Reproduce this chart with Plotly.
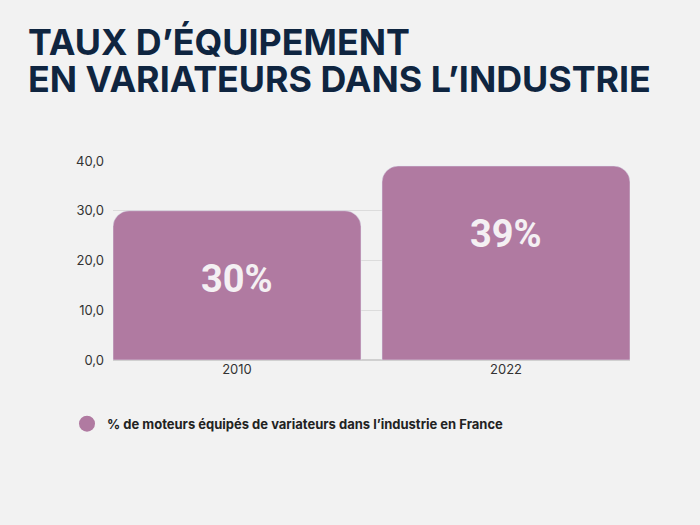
import plotly.graph_objects as go

categories = ["2010", "2022"]
values = [30, 39]
labels = ["30%", "39%"]
series_name = "% de moteurs équipés de variateurs dans l’industrie en France"
title_lines = ["TAUX D’ÉQUIPEMENT", "EN VARIATEURS DANS L’INDUSTRIE"]
y_ticks = [0, 10, 20, 30, 40]

BAR = "#b07aa1"
BG = "#f2f2f2"
NAVY = "#0f2540"

fig = go.Figure()
fig.add_trace(go.Bar(
    x=categories, y=values, marker=dict(color=BAR, cornerradius=16),
    showlegend=False, hoverinfo="skip",
))
fig.add_trace(go.Scatter(
    x=[None], y=[None], mode="markers", name=series_name,
    marker=dict(color=BAR, size=18, symbol="circle"),
))

for i, (v, t) in enumerate(zip(values, labels)):
    fig.add_annotation(xref="x", yref="y", x=i, y=v, text="<b>" + t + "</b>", showarrow=False,
                       yanchor="middle", yshift=-68,
                       font=dict(family="Roboto", size=38, color="#f4f0f3"))

plot_h = 525 - 161 - 165
for i, (line, top, h) in enumerate(zip(title_lines, [42, 79], [None, 30])):
    fig.add_annotation(xref="paper", yref="paper", x=-(113 - 27) / 517, xanchor="left",
                       y=1 + (161 - top) / plot_h, yanchor="middle", showarrow=False,
                       text="<b>" + line + "</b>", height=h, borderpad=0,
                       font=dict(family="Inter", size=35.8, color=NAVY))

fig.update_layout(
    width=700, height=525,
    paper_bgcolor=BG, plot_bgcolor=BG,
    margin=dict(l=113, r=70, t=161, b=165),
    bargap=0.078,
    separators=",.",
    font=dict(family="Inter", size=13, color="#333333"),
    legend=dict(orientation="h", x=-(113 - 67) / 517, xanchor="left", y=-0.32, yanchor="middle",
                font=dict(family="Inter", size=13, color="#222222", weight="bold"),
                bgcolor="rgba(0,0,0,0)"),
    xaxis=dict(type="category", range=[-0.461, 1.461], showgrid=False, showline=False, ticks="",
               tickfont=dict(size=13, color="#333333")),
    yaxis=dict(range=[0, 40], tickvals=y_ticks, tickformat=".1f", showgrid=True,
               gridcolor="#dcdcdc", gridwidth=1, zeroline=True, zerolinecolor="#d0d0d0",
               showline=False, ticks="", ticklabelstandoff=8,
               tickfont=dict(size=13, color="#333333")),
)

fig.write_html("out.html", config={"displayModeBar": False},
               post_script="document.body.style.margin='0';")
